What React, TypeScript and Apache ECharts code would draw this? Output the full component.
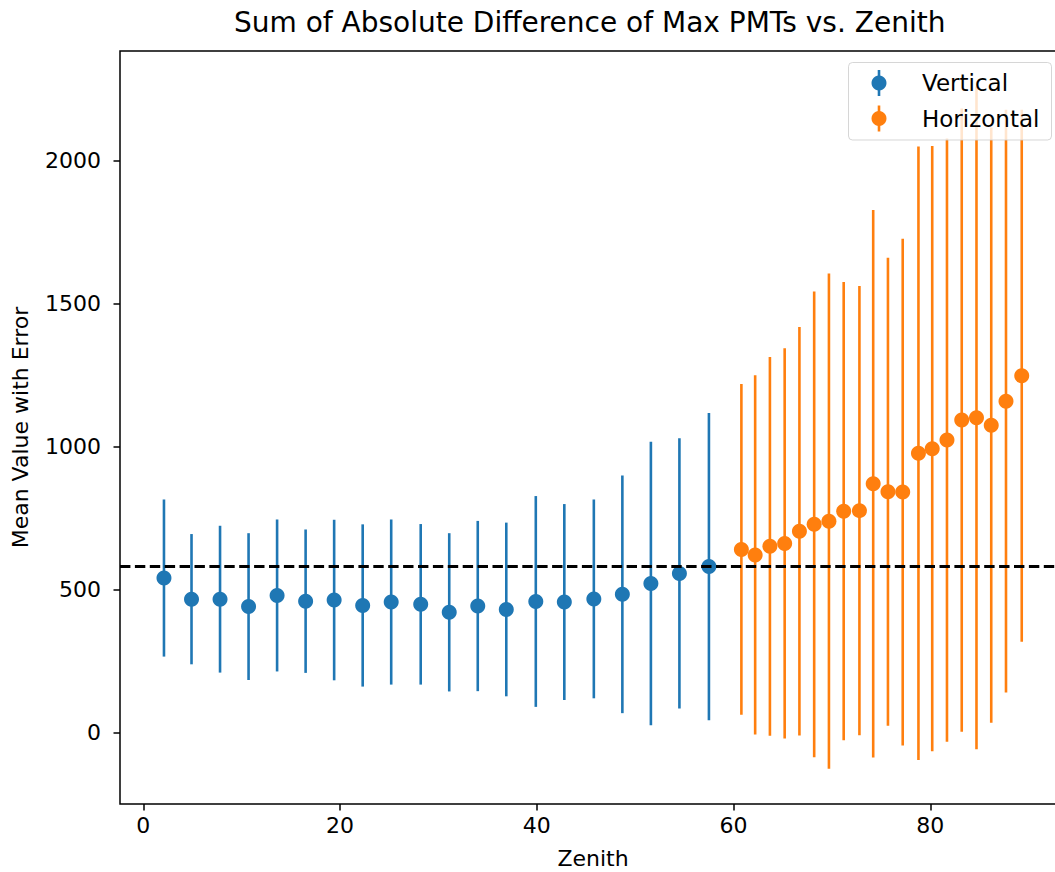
import React, { useEffect, useRef } from 'react';
import * as echarts from 'echarts';

// ---- data ----
const verticalZenith = [2.1, 4.9, 7.8, 10.7, 13.6, 16.5, 19.4, 22.3, 25.2, 28.2, 31.1, 34.0, 36.9, 39.9, 42.8, 45.8, 48.7, 51.6, 54.5, 57.5];
const verticalMean = [540, 466, 466, 440, 479, 459, 463, 444, 456, 448, 420, 442, 430, 458, 456, 467, 483, 521, 556, 580];
const verticalErr = [275, 228, 257, 257, 266, 251, 281, 284, 289, 281, 277, 298, 304, 369, 343, 348, 416, 496, 473, 538];

const horizontalZenith = [60.8, 62.2, 63.7, 65.2, 66.7, 68.2, 69.7, 71.2, 72.8, 74.2, 75.7, 77.2, 78.8, 80.2, 81.7, 83.2, 84.7, 86.2, 87.7, 89.3];
const horizontalMean = [640, 621, 651, 661, 704, 728, 739, 774, 776, 870, 842, 841, 977, 993, 1023, 1093, 1101, 1075, 1159, 1248];
const horizontalErr = [579, 629, 663, 683, 715, 815, 867, 802, 786, 958, 819, 887, 1074, 1059, 1056, 1091, 1160, 1042, 1020, 931];

const referenceLevel = 580;
const xTicks = [0, 20, 40, 60, 80];
const yTicks = [0, 500, 1000, 1500, 2000];
const seriesNames = ['Vertical', 'Horizontal'];
const colors = ['#1f77b4', '#ff7f0e'];
const titleText = 'Sum of Absolute Difference of Max PMTs vs. Zenith';
const xName = 'Zenith';
const yName = 'Mean Value with Error';

const FONT = "'DejaVu Sans', sans-serif";

export default function App() {
  const ref = useRef<HTMLDivElement>(null);

  useEffect(() => {
    const chart = echarts.init(ref.current!, null, { renderer: 'svg' });

    const bars = (xs: number[], ms: number[], es: number[]) =>
      xs.map((x, i) => [x, ms[i] - es[i], ms[i] + es[i]]);
    const pts = (xs: number[], ms: number[]) => xs.map((x, i) => [x, ms[i]]);
    const errRender = (color: string) => (params: any, api: any) => {
      const x = api.value(0);
      const a = api.coord([x, api.value(1)]);
      const b = api.coord([x, api.value(2)]);
      return {
        type: 'line',
        shape: { x1: a[0], y1: a[1], x2: b[0], y2: b[1] },
        style: { stroke: color, lineWidth: 2.6 },
      };
    };

    const legendItem = (i: number, cy: number) => [
      {
        type: 'line',
        z: 101,
        shape: { x1: 879, y1: cy - 13, x2: 879, y2: cy + 13 },
        style: { stroke: colors[i], lineWidth: 2.6 },
      },
      {
        type: 'circle',
        z: 102,
        shape: { cx: 879, cy, r: 7.5 },
        style: { fill: colors[i] },
      },
      {
        type: 'text',
        z: 102,
        x: 922,
        y: cy,
        style: {
          text: seriesNames[i],
          fontSize: 23,
          fontFamily: FONT,
          fill: '#000',
          verticalAlign: 'middle',
          align: 'left',
        },
      },
    ];

    const fmt = (v: number) => String(v);

    chart.setOption({
      animation: false,
      backgroundColor: '#fff',
      title: {
        text: titleText,
        left: 234,
        top: 8,
        padding: 0,
        textStyle: { fontFamily: FONT, fontSize: 28, fontWeight: 'normal', color: '#000' },
      },
      grid: {
        left: 120,
        top: 51,
        right: -11,
        bottom: 68,
        containLabel: false,
        outerBoundsMode: 'none',
        show: true,
        borderColor: '#000',
        borderWidth: 1.5,
        backgroundColor: 'transparent',
      },
      xAxis: {
        type: 'value',
        min: -2.37,
        max: 93.8,
        name: xName,
        nameLocation: 'middle',
        nameGap: 43,
        nameTextStyle: { fontFamily: FONT, fontSize: 22, color: '#000' },
        axisLine: { show: false, onZero: false },
        axisTick: {
          show: true,
          inside: false,
          length: 6.5,
          customValues: xTicks,
          lineStyle: { color: '#000', width: 1.5 },
        },
        axisLabel: {
          customValues: xTicks,
          formatter: fmt,
          margin: 10,
          fontFamily: FONT,
          fontSize: 22,
          color: '#000',
        },
        splitLine: { show: false },
      },
      yAxis: {
        type: 'value',
        min: -251,
        max: 2385,
        name: yName,
        nameLocation: 'middle',
        nameRotate: 90,
        nameGap: 89,
        nameTextStyle: { fontFamily: FONT, fontSize: 22, color: '#000' },
        axisLine: { show: false, onZero: false },
        axisTick: {
          show: true,
          inside: false,
          length: 6.5,
          customValues: yTicks,
          lineStyle: { color: '#000', width: 1.5 },
        },
        axisLabel: {
          customValues: yTicks,
          formatter: fmt,
          margin: 19,
          fontFamily: FONT,
          fontSize: 22,
          color: '#000',
        },
        splitLine: { show: false },
      },
      series: [
        {
          type: 'custom',
          name: seriesNames[0] + ' error',
          z: 2,
          encode: { x: 0, y: [1, 2] },
          data: bars(verticalZenith, verticalMean, verticalErr),
          renderItem: errRender(colors[0]),
          silent: true,
        },
        {
          type: 'scatter',
          name: seriesNames[0],
          z: 3,
          symbol: 'circle',
          symbolSize: 15,
          itemStyle: { color: colors[0], opacity: 1 },
          data: pts(verticalZenith, verticalMean),
        },
        {
          type: 'custom',
          name: seriesNames[1] + ' error',
          z: 4,
          encode: { x: 0, y: [1, 2] },
          data: bars(horizontalZenith, horizontalMean, horizontalErr),
          renderItem: errRender(colors[1]),
          silent: true,
        },
        {
          type: 'scatter',
          name: seriesNames[1],
          z: 5,
          symbol: 'circle',
          symbolSize: 15,
          itemStyle: { color: colors[1], opacity: 1 },
          data: pts(horizontalZenith, horizontalMean),
          markLine: {
            z: 10,
            silent: true,
            symbol: ['none', 'none'],
            label: { show: false },
            lineStyle: { color: '#000', width: 2.8, type: [10.4, 4.5] },
            data: [{ yAxis: referenceLevel }],
          },
        },
      ],
      graphic: {
        elements: [
          {
            type: 'rect',
            z: 100,
            shape: { x: 848.5, y: 62.5, width: 203, height: 77.5, r: 4 },
            style: { fill: 'rgba(255,255,255,0.8)', stroke: 'rgba(204,204,204,0.8)', lineWidth: 1 },
          },
          ...legendItem(0, 83),
          ...legendItem(1, 118.5),
        ],
      },
    });

    return () => chart.dispose();
  }, []);

  return (
    <div
      ref={ref}
      style={{ position: 'fixed', left: 0, top: 0, width: 1055, height: 872, background: '#fff' }}
    />
  );
}
